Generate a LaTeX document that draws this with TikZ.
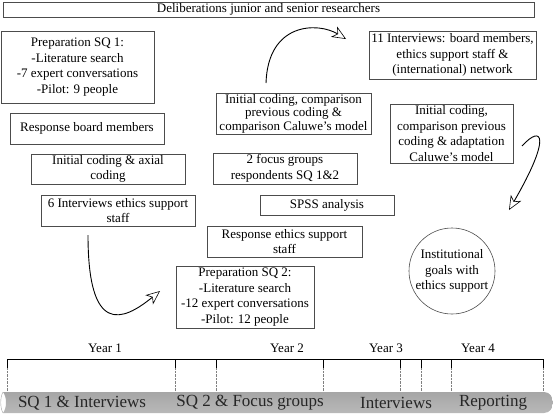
\documentclass[tikz,border=0pt]{standalone}
\usepackage{fontspec}
\setmainfont{Liberation Serif}
\usetikzlibrary{arrows.meta}
\tikzset{
  bx/.style={draw=black!70, line width=0.6pt, inner sep=0pt, align=center,
    font=\fontsize{13}{15.5}\selectfont},
  arr/.style={line width=0.9pt, -{Stealth[length=14pt, width=12pt, inset=4pt, line width=0.6pt, fill=white]}},
  yearlbl/.style={font=\fontsize{13}{15}\selectfont, inner sep=0pt},
  barlbl/.style={font=\fontsize{17}{19}\selectfont, inner sep=0pt, text=black!85},
  tick/.style={line width=0.9pt},
  dotl/.style={densely dotted, gray, line width=0.4pt}
}
\begin{document}
\begin{tikzpicture}[x=1pt, y=-1pt]
\useasboundingbox (0,0) rectangle (553,413);

% boxes
\node[bx, minimum width=531pt, minimum height=15pt] (delib) at (268.5,9.5) {Deliberations junior and senior researchers};
\node[bx, minimum width=153pt, minimum height=72pt] (prep1) at (77.5,67) {Preparation SQ 1:\\-Literature search\\-7 expert conversations\\-Pilot: 9 people};
\node[bx, minimum width=154pt, minimum height=31pt] (respboard) at (87,128.5) {Response board members};
\node[bx, minimum width=154pt, minimum height=30pt] (axial) at (108,169) {Initial coding \& axial\\coding};
\node[bx, minimum width=154pt, minimum height=31pt] (six) at (118,210.5) {6 Interviews ethics support\\staff};
\node[bx, minimum width=155pt, minimum height=41pt, font=\fontsize{13}{13.5}\selectfont] (caluwe) at (293.5,113.5) {Initial coding, comparison\\previous coding \&\\comparison Caluwe's model};
\node[bx, minimum width=144pt, minimum height=31pt] (focus) at (285,168.5) {2 focus groups\\respondents SQ 1\&2};
\node[bx, minimum width=134pt, minimum height=20pt] (spss) at (327,205) {SPSS analysis};
\node[bx, minimum width=155pt, minimum height=31pt] (respethics) at (284.5,241.5) {Response ethics support\\staff};
\node[bx, minimum width=138pt, minimum height=62pt] (prep2) at (245,297) {Preparation SQ 2:\\-Literature search\\-12 expert conversations\\-Pilot: 12 people};
\node[bx, minimum width=167pt, minimum height=48pt] (eleven) at (452.5,55) {11 Interviews: board members,\\ethics support staff \&\\(international) network};
\node[bx, minimum width=123pt, minimum height=59pt] (adapt) at (451.5,133.5) {Initial coding,\\comparison previous\\coding \& adaptation\\Caluwe's model};
\node[bx, circle, minimum size=86pt] (goals) at (452,271) {Institutional\\goals with\\ethics support};

% curved arrows
\coordinate (a1s) at (266,83);
\coordinate (a1e) at (346,39);
\coordinate (a2s) at (522,146);
\coordinate (a2e) at (509,210);
\coordinate (a3s) at (88,235);
\coordinate (a3e) at (160,291);
\draw[arr] (a1s) .. controls (268,22) and (318,22) .. (a1e);
\draw[arr] (a2s) .. controls (542,124) and (552,136) .. (a2e);
\draw[arr] (a3s) .. controls (88,335) and (122,322) .. (a3e);

% timeline labels
\node[yearlbl] (y1) at (105,348) {Year 1};
\node[yearlbl] (y2) at (287,348) {Year 2};
\node[yearlbl] (y3) at (386,348) {Year 3};
\node[yearlbl] (y4) at (478,348) {Year 4};

% bracket
\draw[tick] (7,368) -- (7,359) -- (543,359) -- (543,368);
\foreach \xx in {175,216,323,400,421,451} {
  \draw[tick] (\xx,359) -- (\xx,368);
}
\foreach \xx in {7,175,216,323,400,421,451,543} {
  \draw[dotl] (\xx,368) -- (\xx,392);
}

% bar
\shade[top color=gray!70, middle color=gray!8, bottom color=gray!55]
  (3,392) -- (544,392) .. controls (556,392) and (556,413) .. (544,413) -- (3,413)
  .. controls (7,408) and (7,397) .. cycle;
\draw[gray!70, line width=0.4pt] (3,392) .. controls (0,397) and (0,408) .. (3,413);
\node[barlbl] (b1) at (82,403) {SQ 1 \& Interviews};
\node[barlbl] (b2) at (250,403) {SQ 2 \& Focus groups};
\node[barlbl] (b3) at (396,403) {Interviews};
\node[barlbl] (b4) at (493,403) {Reporting};
\end{tikzpicture}
\end{document}
